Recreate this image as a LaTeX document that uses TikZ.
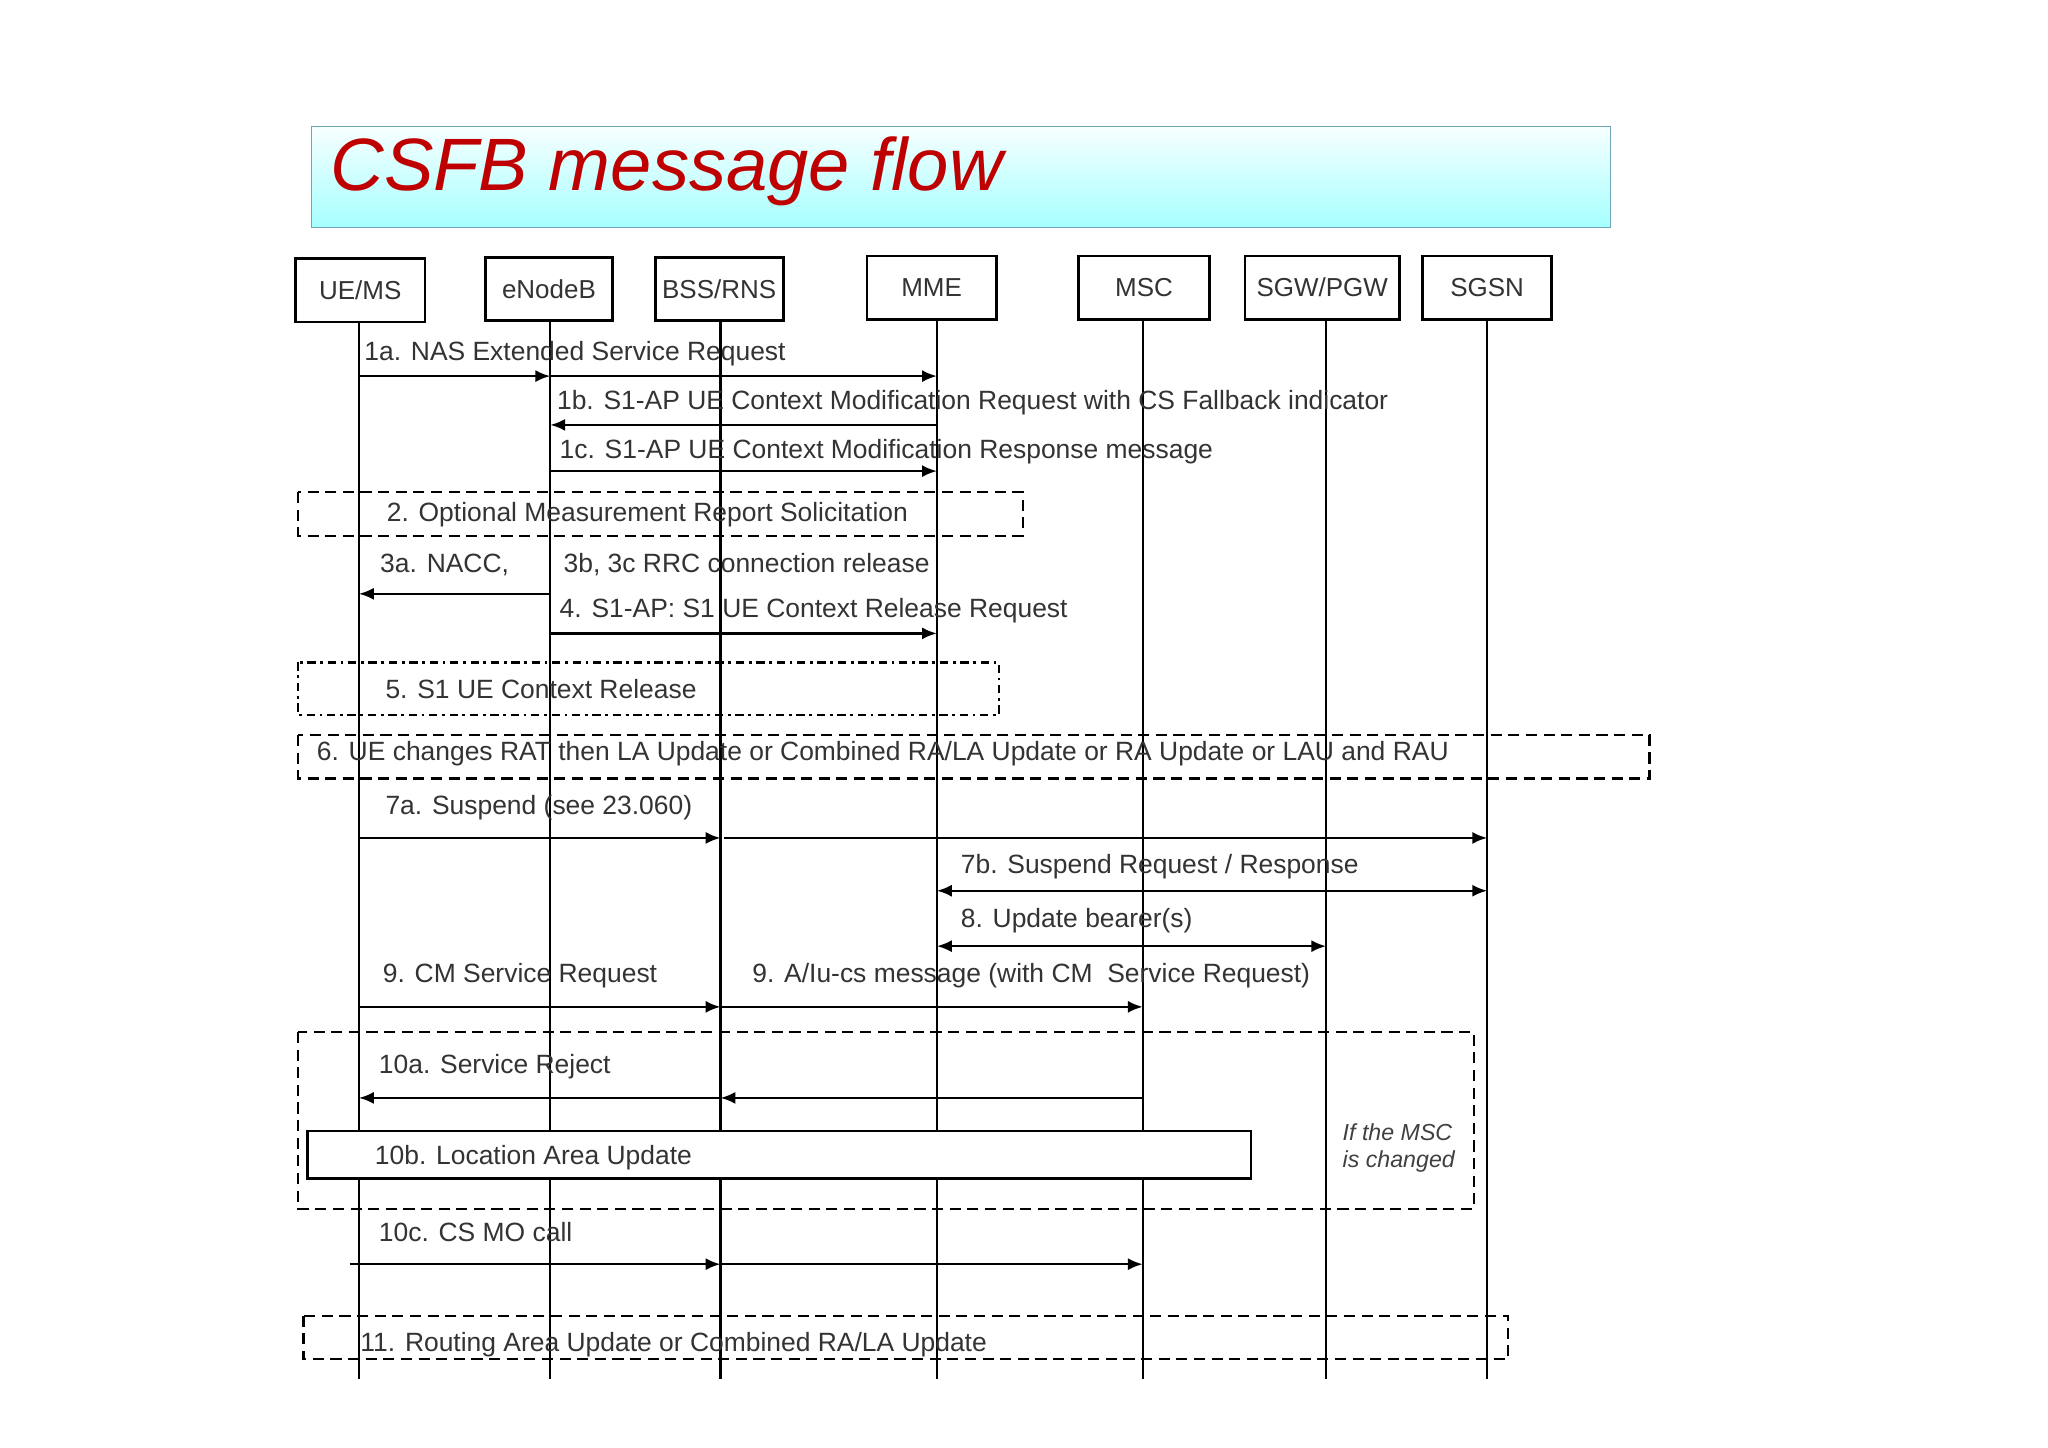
\documentclass[tikz,border=0pt]{standalone}
\usepackage{fontspec}
\setmainfont{Liberation Sans}
\usetikzlibrary{arrows.meta}
\begin{document}
\begin{tikzpicture}[x=0.05cm,y=-0.05cm,
  ent/.style={draw,line width=3pt,minimum height=48*0.05cm,inner sep=0pt,font=\fontsize{28}{32}\selectfont,text=black!80},
  life/.style={line width=2.6pt},
  msg/.style={line width=2.6pt,-{Latex[length=16pt,width=13pt]}},
  bmsg/.style={line width=2.6pt,{Latex[length=16pt,width=13pt]}-{Latex[length=16pt,width=13pt]}},
  lab/.style={anchor=west,inner sep=0pt,font=\fontsize{28.5}{32}\selectfont,text=black!80},
  dbox/.style={draw,line width=2.4pt,dash pattern=on 12pt off 7pt},
  ddbox/.style={draw,line width=2.4pt,dash pattern=on 9pt off 5pt on 3pt off 5pt}]
\useasboundingbox (0,0) rectangle (1552,1097);
\fill[white] (0,0) rectangle (1552,1097);
% title
\shade[top color=cyan!3,bottom color=cyan!35,draw=cyan!60!black!70] (236,96) rectangle (1220,172);
\node[anchor=west,text=red!75!black,font=\fontsize{80}{90}\selectfont\itshape] (title) at (248,130) {CSFB message flow};
% entities
\node[ent,minimum width=98*0.05cm] (ue) at (273,220) {UE/MS};
\node[ent,minimum width=96*0.05cm] (enb) at (416,219) {eNodeB};
\node[ent,minimum width=97*0.05cm] (bss) at (545,219) {BSS/RNS};
\node[ent,minimum width=98*0.05cm] (mme) at (706,218) {MME};
\node[ent,minimum width=99*0.05cm] (msc) at (867,218) {MSC};
\node[ent,minimum width=117*0.05cm] (sgw) at (1002,218) {SGW/PGW};
\node[ent,minimum width=98*0.05cm] (sgsn) at (1127,218) {SGSN};
\foreach \n/\x in {ue/272,enb/417,bss/546,mme/710,msc/866,sgw/1005,sgsn/1127}{
  \coordinate (\n L) at (\x,0);
  \draw[life] (\n.south -| \n L) -- (\n L |- 0,1045);}
% 1
\draw[msg] (ueL |- 0,285) -- (enbL |- 0,285);
\draw[msg] (enbL |- 0,285) -- (mmeL |- 0,285);
\node[lab] (l1a) at (276,268) {1a. NAS Extended Service Request};
\draw[msg] (mmeL |- 0,322) -- (enbL |- 0,322);
\node[lab] (l1b) at (422,305) {1b. S1-AP UE Context Modification Request with CS Fallback indicator};
\draw[msg] (enbL |- 0,357) -- (mmeL |- 0,357);
\node[lab] (l1c) at (424,342) {1c. S1-AP UE Context Modification Response message};
% 2
\draw[dbox] (226,373) rectangle (775,406);
\node[lab] (l2) at (293,390) {2. Optional Measurement Report Solicitation};
% 3
\draw[msg] (enbL |- 0,450) -- (ueL |- 0,450);
\node[lab] (l3a) at (288,428) {3a. NACC,};
\node[lab] (l3b) at (427,428) {3b, 3c RRC connection release};
\draw[msg] (enbL |- 0,480) -- (mmeL |- 0,480);
\node[lab] (l4) at (424,463) {4. S1-AP: S1 UE Context Release Request};
% 5,6
\draw[ddbox] (226,502) rectangle (757,542);
\node[lab] (l5) at (292,522) {5. S1 UE Context Release};
\draw[dbox] (226,557) rectangle (1250,590);
\node[lab] (l6) at (240,571) {6. UE changes RAT then LA Update or Combined RA/LA Update or RA Update or LAU and RAU};
% 7
\draw[msg] (ueL |- 0,635) -- (bssL |- 0,635);
\draw[msg] ([xshift=4pt]bssL |- 0,635) -- (sgsnL |- 0,635);
\node[lab] (l7a) at (292,612) {7a. Suspend (see 23.060)};
\draw[bmsg] (mmeL |- 0,675) -- (sgsnL |- 0,675);
\node[lab] (l7b) at (728,657) {7b. Suspend Request / Response};
\draw[bmsg] (mmeL |- 0,717) -- (sgwL |- 0,717);
\node[lab] (l8) at (728,698) {8. Update bearer(s)};
% 9
\draw[msg] (ueL |- 0,763) -- (bssL |- 0,763);
\draw[msg] (bssL |- 0,763) -- (mscL |- 0,763);
\node[lab] (l9) at (290,739) {9. CM Service Request};
\node[lab] (l9b) at (570,739) {9. A/Iu-cs message (with CM\ \ Service Request)};
% 10
\draw[dbox] (226,782) rectangle (1117,916);
\draw[msg] (mscL |- 0,832) -- (bssL |- 0,832);
\draw[msg] (bssL |- 0,832) -- (ueL |- 0,832);
\node[lab] (l10a) at (287,808) {10a. Service Reject};
\draw[fill=white,line width=3pt] (233,857) rectangle (948,893);
\node[lab] (l10b) at (284,877) {10b. Location Area Update};
\node[align=left,font=\fontsize{25}{29}\selectfont\itshape,text=black!75] (ifm) at (1060,870) {If the MSC\\is changed};
\coordinate (c10) at (265,958);
\draw[msg] (c10) -- (bssL |- 0,958);
\draw[msg] (bssL |- 0,958) -- (mscL |- 0,958);
\node[lab] (l10c) at (287,934) {10c. CS MO call};
% 11
\draw[dbox] (230,997) rectangle (1143,1030);
\node[lab] (l11) at (273,1019) {11. Routing Area Update or Combined RA/LA Update};
\end{tikzpicture}
\end{document}
